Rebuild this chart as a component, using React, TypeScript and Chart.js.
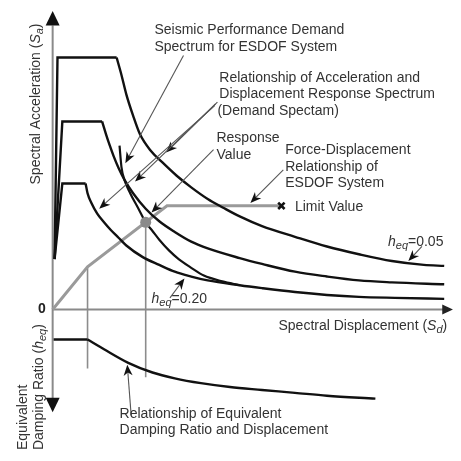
import React, { useEffect, useRef } from "react";
import { Chart, registerables } from "chart.js";

Chart.register(...registerables);

// ---- Data (schematic units: Sd to the right, Sa up, heq down) ----
// Demand spectra: rise + plateau (first 3 points), then decay
const spec05Sd = [2, 5, 66, 71, 76, 83, 90, 101, 113, 128, 143, 160, 176, 193, 216, 250, 283, 316, 350, 383, 404];
const spec05Sa = [52, 260, 260, 242, 222, 200, 181, 164, 152, 138, 126, 114, 105, 96, 86, 75, 65, 57, 50, 46, 45];

const specMidSd = [2, 10, 51, 55, 59, 63, 68, 74, 83, 96, 110, 126, 143, 160, 193, 216, 250, 283, 316, 350, 404];
const specMidSa = [52, 194, 194, 181, 169, 158, 146, 134, 120, 104, 91, 80, 70, 63, 53, 47, 39, 34, 30, 28, 26];

const spec20Sd = [2, 10, 34, 36, 40, 46, 53, 60, 68, 76, 93, 110, 126, 143, 160, 193, 216, 250, 283, 316, 353, 404];
const spec20Sa = [52, 130, 130, 120, 110, 99, 90, 82, 74, 66, 54, 46, 39, 34, 30, 25, 22, 18, 15, 13, 12, 11];

// Seismic performance demand spectrum for ESDOF system
const esdofSd = [69, 71, 74, 80, 88, 96, 103, 110, 120, 130, 143, 156, 175, 193];
const esdofSa = [169, 147, 134, 120, 105, 90, 81, 72, 61, 52, 43, 35, 29, 25];

// Force-displacement (capacity) relationship
const capSd = [0, 36, 118, 236];
const capSa = [0, 44, 107, 107];

// Response value & limit value
const responseSd = [96];
const responseSa = [90];
const limitSd = [236];
const limitSa = [107];

// Equivalent damping ratio vs displacement (plateau: first 2 points)
const dampSd = [1, 36, 53, 78, 103, 126, 153, 183, 216, 250, 283, 333];
const dampHeq = [31, 31, 41, 55, 65, 71, 76, 80, 83, 86, 89, 92];

// Guide lines (yield point & response point) extending into the damping plot
const guideSd = [36, 96];
const guideSaTop = [44, 90];
const guideHeqEnd = [61, 70];

const FONT = '"Liberation Sans", Arial, Helvetica, sans-serif';
const TEXT = "#333";

type Part = { t: string; it?: boolean; sub?: boolean };

const LABELS: { parts: Part[]; sd: number; sa: number }[] = [
  { parts: [{ t: "Seismic Performance Demand" }], sd: 105, sa: 288 },
  { parts: [{ t: "Spectrum for ESDOF System" }], sd: 105, sa: 271 },
  { parts: [{ t: "Relationship of Acceleration and" }], sd: 172, sa: 239 },
  { parts: [{ t: "Displacement Response Spectrum" }], sd: 172, sa: 222 },
  { parts: [{ t: "(Demand Spectam)" }], sd: 170, sa: 205 },
  { parts: [{ t: "Response" }], sd: 169, sa: 177 },
  { parts: [{ t: "Value" }], sd: 169, sa: 159 },
  { parts: [{ t: "Force-Displacement" }], sd: 240, sa: 164 },
  { parts: [{ t: "Relationship of" }], sd: 240, sa: 147 },
  { parts: [{ t: "ESDOF System" }], sd: 240, sa: 130 },
  { parts: [{ t: "Limit Value" }], sd: 250, sa: 106 },
  { parts: [{ t: "h", it: true }, { t: "eq", it: true, sub: true }, { t: "=0.05" }], sd: 346, sa: 70 },
  { parts: [{ t: "h", it: true }, { t: "eq", it: true, sub: true }, { t: "=0.20" }], sd: 102, sa: 11 },
  { parts: [{ t: "Spectral Displacement (" }, { t: "S", it: true }, { t: "d", it: true, sub: true }, { t: ")" }], sd: 233, sa: -17 },
  { parts: [{ t: "Relationship of Equivalent" }], sd: 69, sa: -108 },
  { parts: [{ t: "Damping Ratio and Displacement" }], sd: 69, sa: -125 },
];

// arrows: [fromSd, fromSa, toSd, toSa]
const ARROWS: number[][] = [
  [135, 262, 75, 151],
  [170, 214, 117, 162],
  [168, 212, 85, 132],
  [167, 210, 48, 104],
  [166, 165, 102, 100],
  [238, 144, 204, 110],
  [381, 65, 367, 50],
  [121, 12, 136, 32],
  [81, -109, 77, -57],
];

const pts = (xs: number[], ys: number[]) => xs.map((x, i) => ({ x, y: ys[i] }));

function drawRich(ctx: CanvasRenderingContext2D, parts: Part[], x: number, y: number, size = 14, bold = false) {
  let cx = x;
  for (const p of parts) {
    const fs = p.sub ? Math.round(size * 0.8) : size;
    ctx.font = `${p.it ? "italic " : ""}${bold ? "bold " : ""}${fs}px ${FONT}`;
    ctx.fillText(p.t, cx, p.sub ? y + size * 0.3 : y);
    cx += ctx.measureText(p.t).width;
  }
}

function arrowHead(ctx: CanvasRenderingContext2D, x1: number, y1: number, x2: number, y2: number, len: number, hw: number, color: string) {
  const a = Math.atan2(y2 - y1, x2 - x1);
  ctx.fillStyle = color;
  ctx.beginPath();
  ctx.moveTo(x2, y2);
  ctx.lineTo(x2 - len * Math.cos(a) + hw * Math.sin(a), y2 - len * Math.sin(a) - hw * Math.cos(a));
  ctx.lineTo(x2 - len * 0.7 * Math.cos(a), y2 - len * 0.7 * Math.sin(a));
  ctx.lineTo(x2 - len * Math.cos(a) - hw * Math.sin(a), y2 - len * Math.sin(a) + hw * Math.cos(a));
  ctx.closePath();
  ctx.fill();
}

const decor = {
  id: "decor",
  beforeDatasetsDraw(chart: any) {
    const { ctx } = chart;
    const X = (v: number) => chart.scales.x.getPixelForValue(v);
    const Y = (v: number) => chart.scales.y.getPixelForValue(v);
    const H = (v: number) => chart.scales.y2.getPixelForValue(v);
    ctx.save();
    ctx.strokeStyle = "#8a8a8a";
    ctx.lineWidth = 2;
    ctx.beginPath();
    ctx.moveTo(X(0), Y(293));
    ctx.lineTo(X(0), H(92));
    ctx.stroke();
    ctx.beginPath();
    ctx.moveTo(X(0), Y(0));
    ctx.lineTo(X(404), Y(0));
    ctx.stroke();
    const tri = (tx: number, ty: number, bx1: number, by1: number, bx2: number, by2: number, c: string) => {
      ctx.fillStyle = c;
      ctx.beginPath();
      ctx.moveTo(tx, ty);
      ctx.lineTo(bx1, by1);
      ctx.lineTo(bx2, by2);
      ctx.closePath();
      ctx.fill();
    };
    tri(X(0), Y(308), X(0) - 7, Y(293), X(0) + 7, Y(293), "#111");
    tri(X(0), H(106), X(0) - 7, H(91), X(0) + 7, H(91), "#111");
    tri(X(413), Y(0), X(402), Y(0) - 5, X(402), Y(0) + 5, "#222");
    ctx.restore();
  },
  afterDatasetsDraw(chart: any) {
    const { ctx } = chart;
    const X = (v: number) => chart.scales.x.getPixelForValue(v);
    const Y = (v: number) => chart.scales.y.getPixelForValue(v);
    ctx.save();
    for (const [a, b, c, d] of ARROWS) {
      const x1 = X(a), y1 = Y(b), x2 = X(c), y2 = Y(d);
      ctx.strokeStyle = "#555";
      ctx.lineWidth = 1.1;
      ctx.beginPath();
      ctx.moveTo(x1, y1);
      const ang = Math.atan2(y2 - y1, x2 - x1);
      ctx.lineTo(x2 - 6 * Math.cos(ang), y2 - 6 * Math.sin(ang));
      ctx.stroke();
      arrowHead(ctx, x1, y1, x2, y2, 11, 4.5, "#111");
    }
    ctx.fillStyle = TEXT;
    ctx.textBaseline = "middle";
    ctx.textAlign = "left";
    for (const l of LABELS) {
      ctx.fillStyle = TEXT;
      drawRich(ctx, l.parts, X(l.sd), Y(l.sa));
    }
    ctx.fillStyle = "#222";
    ctx.textAlign = "right";
    ctx.font = `bold 14px ${FONT}`;
    ctx.fillText("0", X(-7), Y(0));
    ctx.textAlign = "left";
    ctx.fillStyle = TEXT;
    const rot = (parts: Part[], sd: number, sa: number) => {
      ctx.save();
      ctx.translate(X(sd), Y(sa));
      ctx.rotate(-Math.PI / 2);
      drawRich(ctx, parts, 0, 0);
      ctx.restore();
    };
    rot([{ t: "Spectral Acceleration (" }, { t: "S", it: true }, { t: "a", it: true, sub: true }, { t: ")" }], -17, 129);
    rot([{ t: "Equivalent" }], -30, -145);
    rot([{ t: "Damping Ratio (" }, { t: "h", it: true }, { t: "eq", it: true, sub: true }, { t: ")" }], -14, -145);
    ctx.restore();
  },
};

export default function App() {
  const ref = useRef<HTMLCanvasElement>(null);
  useEffect(() => {
    if (!ref.current) return;
    const black = "#111";
    const grey = "#8c8c8c";
    const straight = (data: any[], color: string, w: number, axis = "y", order = 1) => ({
      data, borderColor: color, borderWidth: w, showLine: true, pointRadius: 0, tension: 0, yAxisID: axis, order,
    });
    const curve = (data: any[], color: string, w: number, axis = "y", order = 1) => ({
      data, borderColor: color, borderWidth: w, showLine: true, pointRadius: 0, cubicInterpolationMode: "monotone", yAxisID: axis, order,
    });
    const spectra = [
      [spec05Sd, spec05Sa],
      [specMidSd, specMidSa],
      [spec20Sd, spec20Sa],
    ];
    const datasets: any[] = [];
    for (const [sd, sa] of spectra) {
      const p = pts(sd, sa);
      datasets.push(straight(p.slice(0, 3), black, 2.4));
      datasets.push(curve(p.slice(2), black, 2.4));
    }
    datasets.push(curve(pts(esdofSd, esdofSa), black, 2.2));
    const dp = pts(dampSd, dampHeq);
    datasets.push(straight(dp.slice(0, 2), black, 2.4, "y2"));
    datasets.push(curve(dp.slice(1), black, 2.4, "y2"));
    guideSd.forEach((g, i) => {
      datasets.push(straight([{ x: g, y: guideSaTop[i] }, { x: g, y: 0 }], grey, 1.6, "y", 3));
      datasets.push(straight([{ x: g, y: 0 }, { x: g, y: guideHeqEnd[i] }], grey, 1.6, "y2", 3));
    });
    datasets.push(straight(pts(capSd, capSa), "#9a9a9a", 3, "y", 2));
    datasets.push({
      data: pts(responseSd, responseSa), showLine: false, pointRadius: 5.5, backgroundColor: "#8a8a8a",
      borderColor: "#8a8a8a", borderWidth: 0, order: 0,
    });
    datasets.push({
      data: pts(limitSd, limitSa), showLine: false, pointStyle: "crossRot", pointRadius: 4.5,
      borderColor: "#111", borderWidth: 2.6, order: 0,
    });
    const chart = new Chart(ref.current, {
      type: "scatter",
      data: { datasets },
      options: {
        animation: false,
        responsive: true,
        maintainAspectRatio: false,
        layout: { padding: 0 },
        plugins: { legend: { display: false }, tooltip: { enabled: false } },
        events: [],
        scales: {
          x: { type: "linear", min: -47, max: 414, display: false },
          y: { type: "linear", min: -149, max: 312, display: false },
          y2: { type: "linear", min: -312, max: 149, reverse: true, display: false },
        },
      },
      plugins: [decor],
    } as any);
    return () => chart.destroy();
  }, []);
  return (
    <div style={{ position: "fixed", left: 0, top: 0, width: 461, height: 461, background: "#fff" }}>
      <canvas ref={ref} />
    </div>
  );
}
